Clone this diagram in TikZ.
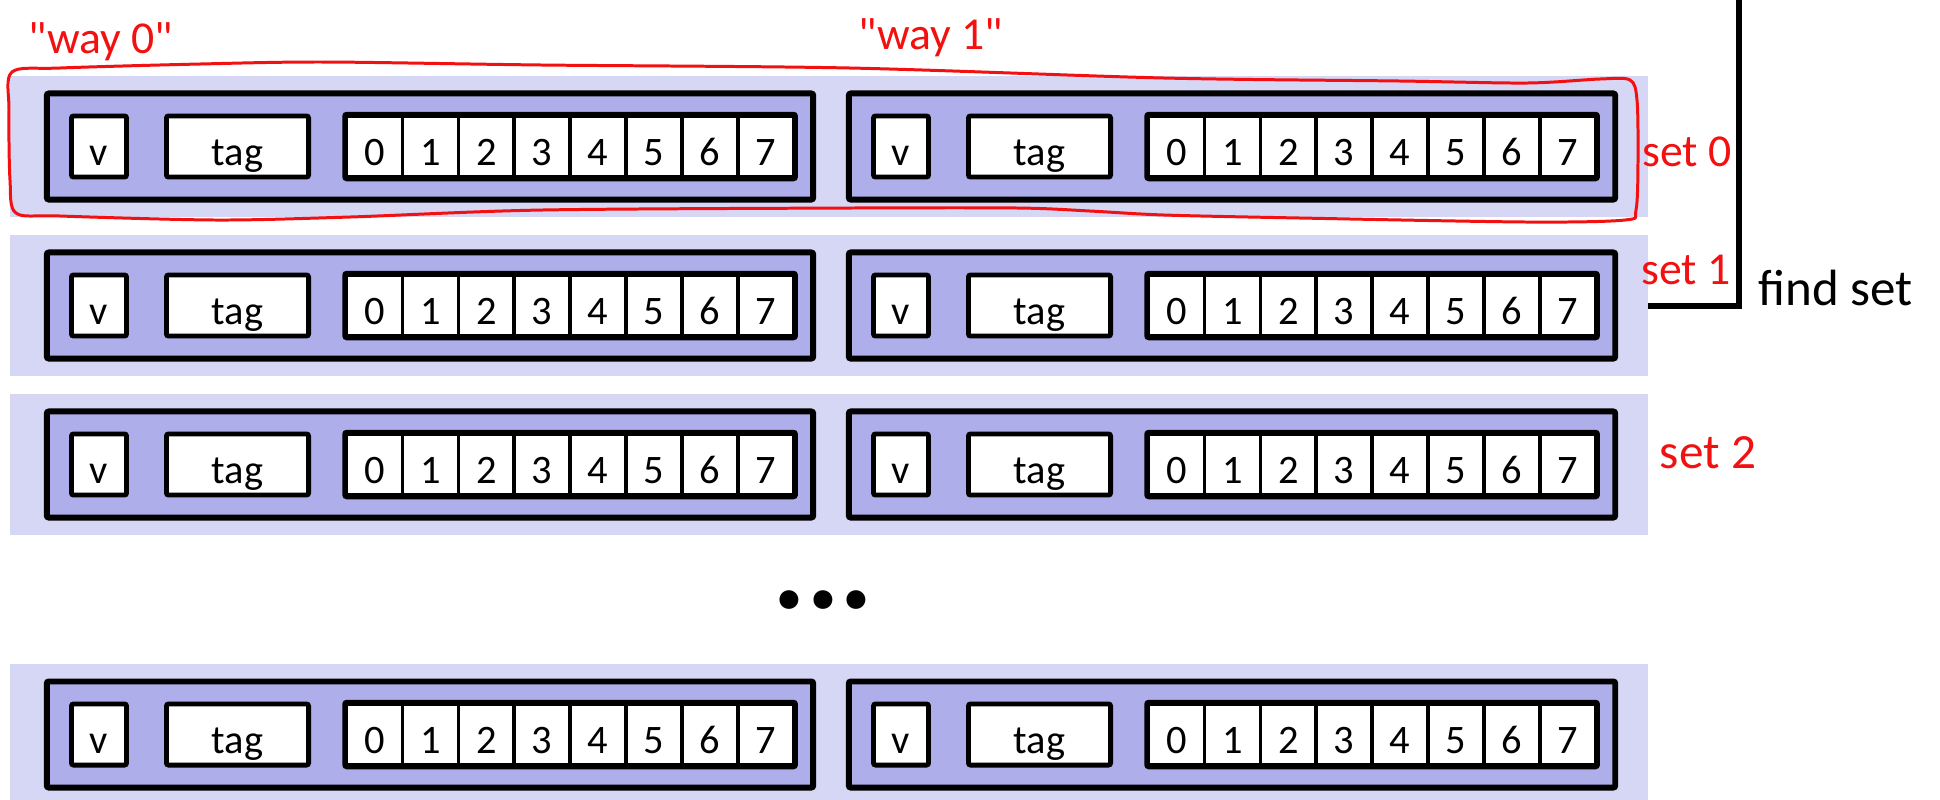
\documentclass[tikz,border=0pt]{standalone}
\usepackage{fontspec}
\setmainfont{Carlito}
\newfontfamily\notefont{Carlito}[Ligatures=TeXOff]

\definecolor{setbg}{HTML}{D6D6F5}
\definecolor{waybg}{HTML}{AEAEEA}
\definecolor{inkred}{HTML}{F21010}

\tikzset{
  setband/.style={fill=setbg, minimum width=16.37cm, minimum height=1.41cm, inner sep=0pt},
  waybox/.style={draw, fill=waybg, line width=1.7pt, rounded corners=0.6pt,
    minimum width=7.66cm, minimum height=1.06cm, inner sep=0pt},
  field/.style={draw, fill=white, line width=1.4pt, rounded corners=0.6pt,
    minimum height=0.61cm, inner sep=0pt, text height=0.38cm, text depth=0pt,
    font=\fontsize{11.5}{12}\selectfont},
  cell/.style={field, line width=1pt, rounded corners=0pt, minimum width=0.559cm},
  note/.style={text=inkred, inner sep=0pt, font=\notefont\fontsize{13}{14}\selectfont},
  scribble/.style={draw=inkred, line width=0.85pt}
}

\begin{document}
\begin{tikzpicture}[x=0.01cm, y=-0.01cm]
  \clip (0,0) rectangle (1940,799);

  % one band per set, two ways in each
  \foreach \s/\y in {0/146.5, 1/305.5, 2/464.5, 3/734.5} {
    \node[setband] (band\s) at (828.5,\y) {};
    \foreach \w/\x in {0/0, 1/802} {
      \node[waybox] (way\s\w) at (430+\x,\y) {};
      \node[field, minimum width=0.55cm] (v\s\w) at (99+\x,\y) {v};
      \node[field, minimum width=1.42cm] (tag\s\w) at (237.5+\x,\y) {tag};
      \foreach \k in {0,...,7}
        \node[cell] (b\s\w\k) at ({346.5+55.9*(\k+0.5)+\x},\y) {\k};
      \draw[line width=1.4pt, rounded corners=0.6pt] (b\s\w0.north west) rectangle (b\s\w7.south east);
    }
  }

  \node[font=\fontsize{36}{40}\selectfont\bfseries] (dots) at (823,600) {...};

  % find set
  \coordinate (findtop) at (1739,-10);
  \draw[line width=1.7pt] (findtop) |- (band1.east);
  \node[anchor=base west, inner sep=0pt, font=\fontsize{14.5}{16}\selectfont] (findset) at (1758,305) {find set};

  % red notes
  \node[note] (way0) at (101,42) {"way 0"};
  \node[note] (way1) at (931,38) {"way 1"};
  \node[note] (set0) at (1687,152) {set 0};
  \node[note] (set1) at (1686,270) {set 1};
  \node[note, font=\notefont\fontsize{14}{16}\selectfont] (set2) at (1708,453) {set 2};
  \draw[scribble] plot[smooth cycle, tension=0.5] coordinates {
    (12,72) (60,68) (200,64) (325,62) (542,65) (850,68) (1164,78) (1400,81)
    (1527,83) (1600,79) (1630,80) (1637,100) (1638,160) (1636,210) (1625,220)
    (1527,222) (1300,218) (1164,215) (1090,211) (1018,208) (850,208) (542,210)
    (350,217) (217,220) (60,216) (16,213) (10,180) (9,110)};
\end{tikzpicture}
\end{document}
